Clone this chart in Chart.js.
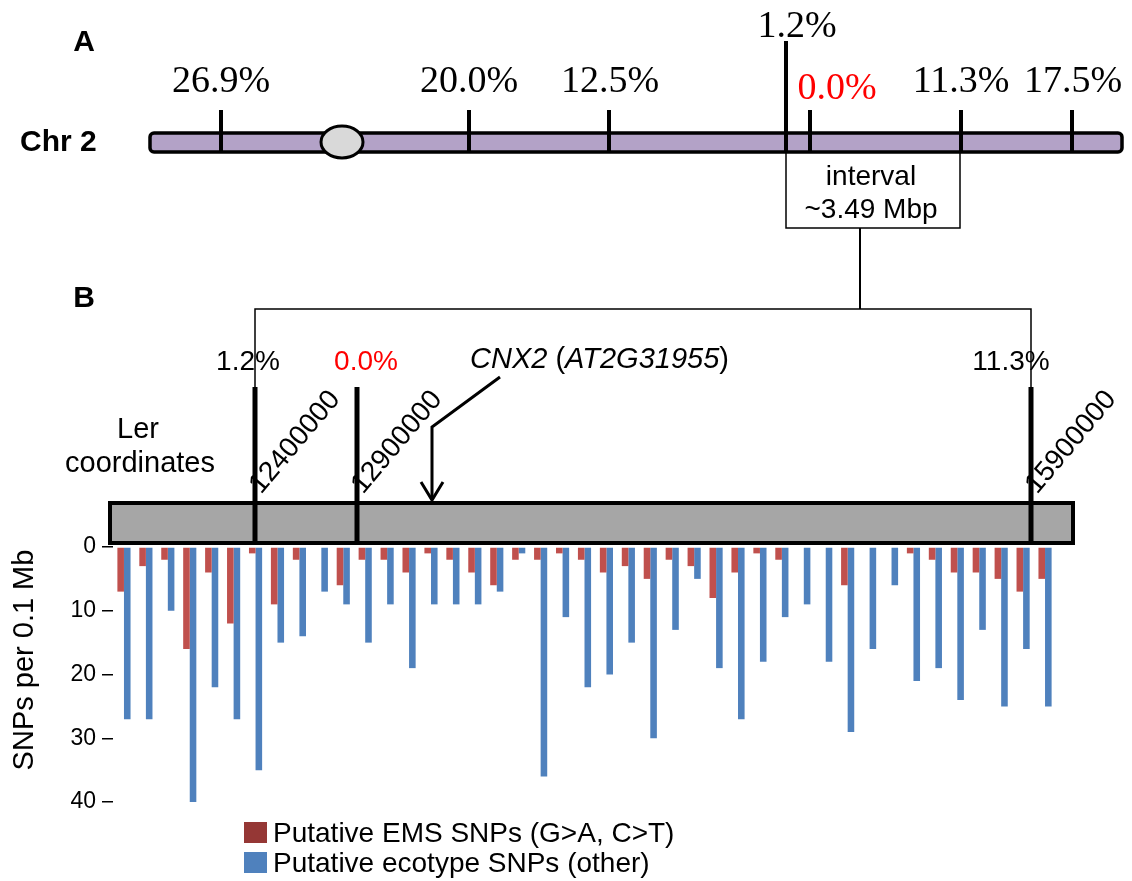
<!DOCTYPE html>
<html>
<head>
<meta charset="utf-8">
<title>CNX2 mapping interval</title>
<script src="https://cdn.jsdelivr.net/npm/chart.js@4.4.1/dist/chart.umd.min.js"></script>
<style>
  html, body { margin: 0; padding: 0; background: #fff; }
</style>
</head>
<body>
<canvas id="snp-chart" width="1132" height="881"></canvas>
<script>
// SNP counts per 0.1 Mb bin along the Ler interval
const emsSnps = [7, 3, 2, 16, 4, 12, 1, 9, 2, 0, 6, 2, 2, 4, 1, 2, 4, 6, 2, 2, 1, 2,
                 4, 3, 5, 2, 3, 8, 4, 1, 2, 0, 0, 6, 0, 0, 1, 2, 4, 4, 5, 7, 5];
const ecotypeSnps = [27, 27, 10, 40, 22, 27, 35, 15, 14, 7, 9, 15, 9, 19, 9, 9, 9, 7, 1, 36, 11, 22,
                     20, 15, 30, 13, 5, 19, 27, 18, 11, 9, 18, 29, 16, 6, 21, 19, 24, 13, 25, 16, 25];
const bins = emsSnps.map((_, i) => 'bin ' + (i + 1));
const yTicks = [0, 10, 20, 30, 40];
const yTitle = 'SNPs per 0.1 Mb';

// chromosome 2 markers with recombination frequencies
const chrMarkers = ['26.9%', '20.0%', '12.5%', '1.2%', '0.0%', '11.3%', '17.5%'];
// flanking markers of the interval and their Ler coordinates
const intervalMarkers = ['1.2%', '0.0%', '11.3%'];
const lerCoords = ['12400000', '12900000', '15900000'];

const seriesNames = ['Putative EMS SNPs (G>A, C>T)', 'Putative ecotype SNPs (other)'];

const sans = '"Liberation Sans", Arial, sans-serif';
const serif = '"Liberation Serif", "Times New Roman", serif';
const red = '#c0504d', blue = '#4f81bd', legendRed = '#953735';
const hit = '#ff0000';

function path(ctx, pts, w) {
  ctx.beginPath();
  ctx.moveTo(pts[0][0], pts[0][1]);
  for (let i = 1; i < pts.length; i++) ctx.lineTo(pts[i][0], pts[i][1]);
  ctx.lineWidth = w;
  ctx.strokeStyle = '#000';
  ctx.stroke();
}

function text(ctx, s, x, y, font, color, align) {
  ctx.font = font;
  ctx.fillStyle = color || '#000';
  ctx.textAlign = align || 'left';
  ctx.textBaseline = 'alphabetic';
  ctx.fillText(s, x, y);
}

// everything around the bar chart: chromosome sketch, interval bracket, legend
const figureArt = {
  id: 'figureArt',
  afterDraw(chart) {
    const ctx = chart.ctx;
    ctx.save();
    ctx.lineCap = 'butt';

    // ---- panel A
    text(ctx, 'A', 84, 51, 'bold 30px ' + sans, '#000', 'center');
    text(ctx, 'Chr 2', 20, 151, 'bold 30px ' + sans);

    ctx.beginPath();
    ctx.roundRect(150, 133, 972, 19, 4);
    ctx.fillStyle = '#b3a2c7';
    ctx.fill();
    ctx.lineWidth = 3.5;
    ctx.strokeStyle = '#000';
    ctx.stroke();

    const chrX = [221, 469, 609, 786, 810, 961, 1072];
    const chrLabelX = [221, 469, 610, 797, 837, 961, 1073];
    const chrBase = [92, 92, 92, 37, 99, 92, 92];
    chrMarkers.forEach((m, i) => {
      const top = i === 3 ? 41 : 110;
      path(ctx, [[chrX[i], top], [chrX[i], 151]], 4);
      text(ctx, m, chrLabelX[i], chrBase[i], '38px ' + serif, i === 4 ? hit : '#000', 'center');
    });

    // centromere
    ctx.beginPath();
    ctx.ellipse(342, 142, 21, 16, 0, 0, Math.PI * 2);
    ctx.fillStyle = '#d9d9d9';
    ctx.fill();
    ctx.lineWidth = 3;
    ctx.stroke();

    // interval box + bracket down to panel B
    ctx.lineWidth = 1.5;
    ctx.strokeRect(786, 152, 174, 76);
    text(ctx, 'interval', 871, 185, '28px ' + sans, '#000', 'center');
    text(ctx, '~3.49 Mbp', 871, 218, '28px ' + sans, '#000', 'center');
    path(ctx, [[860, 228], [860, 309]], 2);
    path(ctx, [[255, 387], [255, 309], [1031, 309], [1031, 387]], 1.5);

    // ---- panel B
    text(ctx, 'B', 84, 307, 'bold 30px ' + sans, '#000', 'center');

    ctx.fillStyle = '#a6a6a6';
    ctx.fillRect(110, 503, 963, 40);
    ctx.lineWidth = 4;
    ctx.strokeStyle = '#000';
    ctx.strokeRect(110, 503, 963, 40);

    const ivX = [255, 357, 1031];
    const ivLabelX = [248, 366, 1011];
    intervalMarkers.forEach((m, i) => {
      path(ctx, [[ivX[i], 387], [ivX[i], 543]], 5);
      text(ctx, m, ivLabelX[i], 370, '28px ' + sans, i === 1 ? hit : '#000', 'center');
      ctx.save();
      ctx.translate(ivX[i] + 6, 495);
      ctx.rotate(-50 * Math.PI / 180);
      text(ctx, lerCoords[i], 0, 0, '28px ' + sans);
      ctx.restore();
    });

    text(ctx, 'Ler', 138, 438, '29px ' + sans, '#000', 'center');
    text(ctx, 'coordinates', 140, 472, '29px ' + sans, '#000', 'center');

    // CNX2 label, gene names in italics
    let x = 470;
    [['CNX2', true], [' (', false], ['AT2G31955', true], [')', false]].forEach(([s, it]) => {
      const f = (it ? 'italic ' : '') + '29px ' + sans;
      text(ctx, s, x, 368, f);
      x += ctx.measureText(s).width;
    });
    path(ctx, [[500, 377], [432, 427], [432, 500]], 3);
    path(ctx, [[421, 482], [432, 500], [443, 482]], 3);

    // y-axis title
    ctx.save();
    ctx.translate(33, 660);
    ctx.rotate(-Math.PI / 2);
    text(ctx, yTitle, 0, 0, '29px ' + sans, '#000', 'center');
    ctx.restore();

    // legend
    const swatch = [legendRed, blue];
    chart.data.datasets.forEach((ds, i) => {
      const y = 822 + i * 30;
      ctx.fillStyle = swatch[i];
      ctx.fillRect(244, y, 23, 21);
      text(ctx, ds.label, 273, y + 20, '28px ' + sans);
    });

    ctx.restore();
  }
};

new Chart(document.getElementById('snp-chart'), {
  type: 'bar',
  data: {
    labels: bins,
    datasets: [
      { label: seriesNames[0], data: emsSnps, backgroundColor: red, borderWidth: 0 },
      { label: seriesNames[1], data: ecotypeSnps, backgroundColor: blue, borderWidth: 0 }
    ]
  },
  options: {
    responsive: false,
    animation: false,
    devicePixelRatio: 1,
    categoryPercentage: 0.6,
    barPercentage: 1.0,
    layout: { padding: { top: 547, right: 76, bottom: 79, left: 0 } },
    plugins: { legend: { display: false }, tooltip: { enabled: false } },
    scales: {
      x: { display: false },
      y: {
        reverse: true,
        min: yTicks[0],
        max: yTicks[yTicks.length - 1],
        afterBuildTicks: (scale) => { scale.ticks = yTicks.map(v => ({ value: v })); },
        afterFit: (scale) => { scale.width = 113; },
        ticks: { color: '#000', padding: 6, font: { family: sans, size: 23 } },
        grid: { drawOnChartArea: false, drawTicks: true, tickLength: 11, color: '#000', lineWidth: 1.5 },
        border: { display: false },
        title: { display: false }
      }
    }
  },
  plugins: [figureArt]
});
</script>
</body>
</html>
